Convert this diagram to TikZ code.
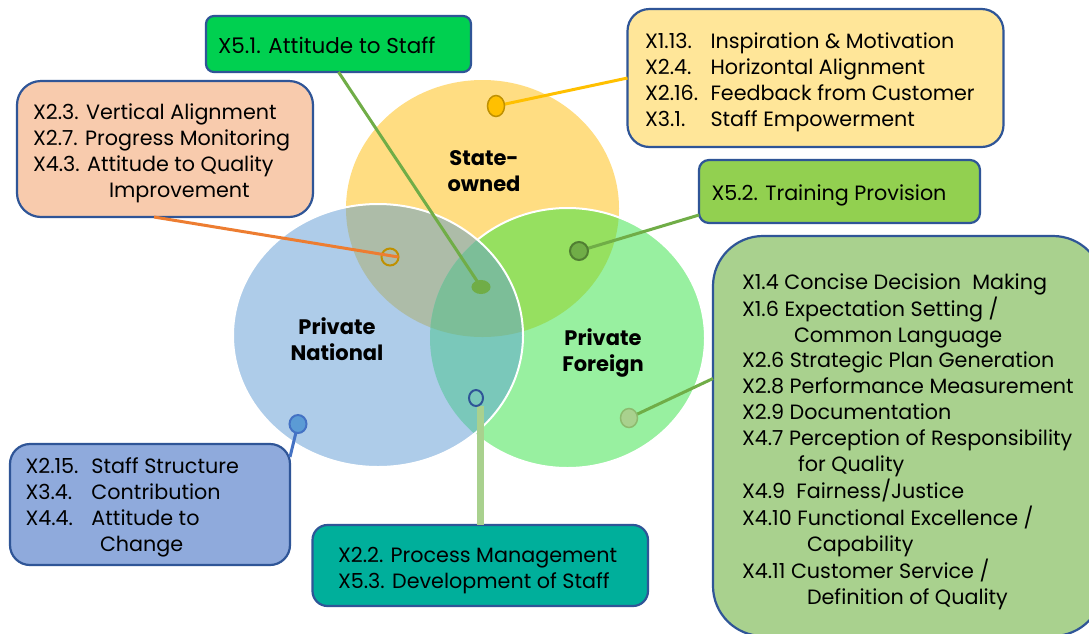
\documentclass[tikz,border=0pt]{standalone}
\usepackage{fontspec}
\setmainfont{Poppins}
\usetikzlibrary{shapes.geometric}
\definecolor{cY}{HTML}{FFDD82}
\definecolor{cB}{HTML}{AECCE9}
\definecolor{cG}{HTML}{98F0A0}
\definecolor{cYB}{HTML}{ADBCA8}
\definecolor{cYG}{HTML}{96E060}
\definecolor{cBG}{HTML}{7AC8BA}
\definecolor{cYBG}{HTML}{7CBE98}
\definecolor{boxborder}{HTML}{2F5597}
\definecolor{fA}{HTML}{00D050}
\definecolor{fPeach}{HTML}{F8CBAD}
\definecolor{fYel}{HTML}{FFE699}
\definecolor{fLime}{HTML}{92D050}
\definecolor{fSage}{HTML}{A9D18E}
\definecolor{fBlue}{HTML}{8FAADC}
\definecolor{fTeal}{HTML}{00AF9B}
\definecolor{lGold}{HTML}{FFC000}
\definecolor{dGold}{HTML}{BF9000}
\definecolor{lOrange}{HTML}{ED7D31}
\definecolor{lGreen}{HTML}{70AD47}
\definecolor{dGreen}{HTML}{507E32}
\definecolor{lBlue}{HTML}{4472C4}
\definecolor{mBlue}{HTML}{5B9BD5}
\definecolor{sageEdge}{HTML}{8DBA6E}
\newcommand{\mlines}[1]{\begin{tabular}[t]{@{}l@{}}#1\end{tabular}}
\newcommand{\clines}[1]{\begin{tabular}[t]{@{}c@{}}#1\end{tabular}}
\newcommand{\tabto}[2]{\makebox[#1][l]{#2}}
\begin{document}
\begin{tikzpicture}[x=1pt,y=-1pt,
  every node/.style={inner sep=0pt, outer sep=0pt},
  box/.style={draw=boxborder, line width=2.2pt, anchor=north west, rectangle},
  txt/.style={anchor=base west, font=\fontsize{20.7}{26.2}\selectfont, text=black},
  lbl/.style={anchor=base, font=\bfseries\fontsize{21}{26.5}\selectfont, text=black},
  conn/.style={line width=3pt},
  marker/.style={ellipse, line width=2pt},
]
\useasboundingbox (0,0) rectangle (1089,633);
\fill[white] (0,0) rectangle (1089,633);

% ---- Venn regions ----
\fill[cY] (482.5,208.5) ellipse [x radius=136.5pt, y radius=128.5pt];
\fill[cG] (567.5,338) ellipse [x radius=137.5pt, y radius=130pt];
\begin{scope}
  \clip (482.5,208.5) ellipse [x radius=136.5pt, y radius=128.5pt];
  \fill[cYG] (567.5,338) ellipse [x radius=137.5pt, y radius=130pt];
\end{scope}
\draw[white, line width=2pt] (567.5,338) ellipse [x radius=137.5pt, y radius=130pt];
\fill[cB] (378,335.5) ellipse [x radius=145pt, y radius=131.5pt];
\begin{scope}
  \clip (378,335.5) ellipse [x radius=145pt, y radius=131.5pt];
  \fill[cYB] (482.5,208.5) ellipse [x radius=136.5pt, y radius=128.5pt];
  \fill[cBG] (567.5,338) ellipse [x radius=137.5pt, y radius=130pt];
  \clip (482.5,208.5) ellipse [x radius=136.5pt, y radius=128.5pt];
  \fill[cYBG] (567.5,338) ellipse [x radius=137.5pt, y radius=130pt];
\end{scope}
\draw[white, line width=2pt] (378,335.5) ellipse [x radius=145pt, y radius=131.5pt];

% ---- circle labels ----
\node[lbl] (lState) at (484,165) {\clines{State-\\owned}};
\node[lbl] (lNat) at (337,334) {\clines{Private\\National}};
\node[lbl] (lFor) at (603,345) {\clines{Private\\Foreign}};

% ---- boxes ----
\node[box, fill=fA, rounded corners=8pt, minimum width=265pt, minimum height=56pt] (bA) at (206,16) {};
\node[box, fill=fPeach, rounded corners=24pt, minimum width=296pt, minimum height=136pt] (bP) at (17,81) {};
\node[box, fill=fYel, rounded corners=22pt, minimum width=376pt, minimum height=138pt] (bY) at (627.5,9) {};
\node[box, fill=fLime, rounded corners=10pt, minimum width=281pt, minimum height=63pt] (bL) at (699,160) {};
\node[box, fill=fSage, rounded corners=50pt, minimum width=390pt, minimum height=400pt] (bS) at (713,236) {};
\node[box, fill=fBlue, rounded corners=20pt, minimum width=280pt, minimum height=121pt] (bB) at (10,444) {};
\node[box, fill=fTeal, rounded corners=15pt, minimum width=335.5pt, minimum height=81pt] (bT) at (312.5,525) {};

% ---- markers (positions) ----
\node[marker, draw=dGold, minimum width=17pt, minimum height=17pt] (mO) at (390,257) {};
\coordinate (mY) at (496,106);
\coordinate (mG) at (481,287);
\coordinate (mD) at (579,251);
\coordinate (mS) at (629,418);
\coordinate (mB) at (298,424);
\coordinate (mH) at (476,398);

% ---- connectors ----
\draw[conn, lGold] (mY) -- (bY.west);
\draw[conn, lOrange] ([xshift=-11pt]bP.south) -- (mO.east);
\draw[conn, lGreen] (bA.south) -- (mG);
\draw[conn, lGreen] (mD) -- ([yshift=8pt]bL.south west);
\draw[conn, lGreen] (mS) -- ([yshift=57.5pt]bS.west);
\draw[conn, lBlue] (mB) -- ([yshift=-13pt]bB.north east);
\draw[line width=7pt, fSage] ([yshift=-8pt]mH -| bT.north) -- (bT.north);

% ---- markers drawn above connectors ----
\node[marker, fill=lGold, draw=dGold, line width=1.5pt, minimum width=17pt, minimum height=21pt] (dY) at (mY) {};
\node[marker, fill=lGreen, draw=lGreen, minimum width=17pt, minimum height=12pt] (dG) at (mG) {};
\node[marker, fill=lGreen, draw=dGreen, minimum width=18pt, minimum height=18pt] (dD) at (mD) {};
\node[marker, fill=fSage, draw=sageEdge, line width=1.5pt, minimum width=17pt, minimum height=19pt] (dS) at (mS) {};
\node[marker, fill=mBlue, draw=lBlue, minimum width=17pt, minimum height=18pt] (dB) at (mB) {};
\node[marker, draw=boxborder, minimum width=14pt, minimum height=16pt] (dH) at (mH) {};

% ---- box texts ----
\node[txt, font=\fontsize{21.5}{26.2}\selectfont] (tA) at (218,53) {\mlines{X5.1. Attitude to Staff}};
\node[txt] (tP) at (33,119) {\mlines{X2.3. Vertical Alignment\\X2.7. Progress Monitoring\\X4.3. Attitude to Quality\\\hspace*{76pt}Improvement}};
\node[txt] (tY) at (645,48) {\mlines{\tabto{65.5pt}{X1.13.}Inspiration \& Motivation\\\tabto{65.5pt}{X2.4.}Horizontal Alignment\\\tabto{65.5pt}{X2.16.}Feedback from Customer\\\tabto{65.5pt}{X3.1.}Staff Empowerment}};
\node[txt] (tL) at (711.5,200) {\mlines{X5.2. Training Provision}};
\node[txt, font=\fontsize{20.7}{25.8}\selectfont] (tS) at (742,289) {\mlines{X1.4 Concise Decision\ \ Making\\X1.6 Expectation Setting /\\\hspace*{52pt}Common Language\\X2.6 Strategic Plan Generation\\X2.8 Performance Measurement\\X2.9 Documentation\\X4.7 Perception of Responsibility\\\hspace*{56pt}for Quality\\X4.9\ \ Fairness/Justice\\X4.10 Functional Excellence /\\\hspace*{65pt}Capability\\X4.11 Customer Service /\\\hspace*{65pt}Definition of Quality}};
\node[txt] (tB) at (25.5,473) {\mlines{\tabto{66pt}{X2.15.}Staff Structure\\\tabto{66pt}{X3.4.}Contribution\\\tabto{66pt}{X4.4.}Attitude to\\\hspace*{74.5pt}Change}};
\node[txt] (tT) at (338,562) {\mlines{X2.2. Process Management\\X5.3. Development of Staff}};
\end{tikzpicture}
\end{document}
